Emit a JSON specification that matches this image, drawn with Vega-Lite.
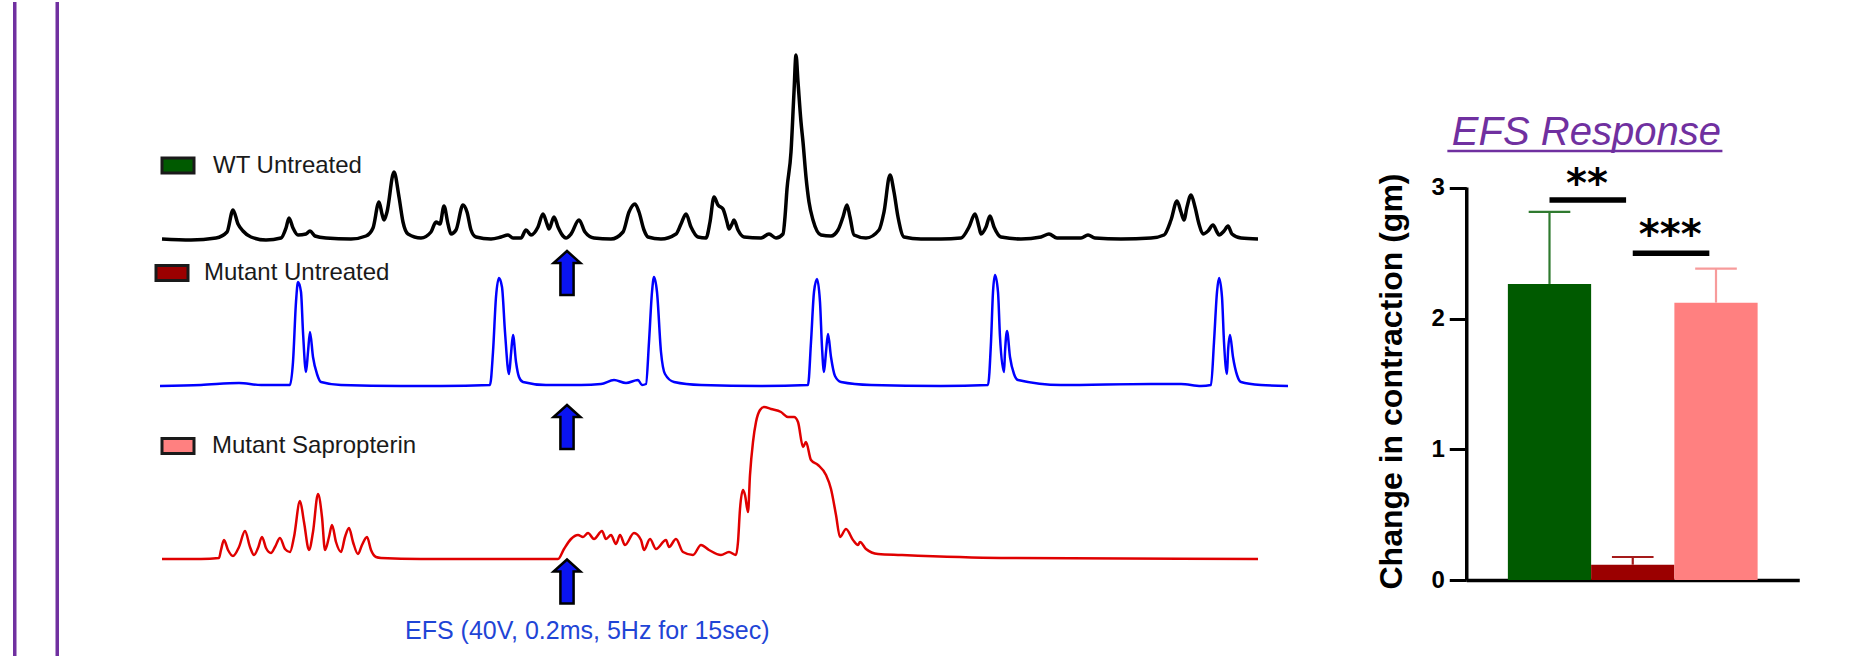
{
"$schema": "https://vega.github.io/schema/vega-lite/v6.json",
"padding": {"left": 12.75, "top": 0, "right": 0, "bottom": 0},
"background": "white",
"config": {"view": {"stroke": null}, "font": "Liberation Sans"},
"datasets": {
"frame": [{"edge": 0}, {"edge": 1}],
"wt": [
{"t":0,"v":0},{"t":7.25,"v":-0.01},{"t":13.5,"v":0.01},{"t":16.25,"v":0.07},{"t":17.75,"v":0.29},{"t":19,"v":0.15},{"t":20.25,"v":0.08},{"t":22.25,"v":0.02},{"t":26,"v":-0.01},{"t":29.75,"v":0.01},{"t":31,"v":0.11},{"t":31.75,"v":0.21},{"t":32.75,"v":0.11},{"t":34,"v":0.04},{"t":36,"v":0.05},{"t":37,"v":0.08},{"t":38.25,"v":0.03},{"t":41,"v":0.01},{"t":47.25,"v":0},{"t":51,"v":0.03},{"t":52.75,"v":0.11},{"t":54.25,"v":0.37},{"t":55,"v":0.25},{"t":55.5,"v":0.19},{"t":56.25,"v":0.27},{"t":58,"v":0.67},{"t":59.25,"v":0.42},{"t":60.25,"v":0.17},{"t":61.5,"v":0.05},{"t":64.75,"v":0.01},{"t":67.25,"v":0.07},{"t":68.5,"v":0.17},{"t":69.5,"v":0.15},{"t":70.5,"v":0.33},{"t":71.5,"v":0.15},{"t":72.25,"v":0.05},{"t":73.5,"v":0.09},{"t":75.25,"v":0.34},{"t":76.25,"v":0.27},{"t":77.25,"v":0.09},{"t":78.5,"v":0.02},{"t":82.25,"v":0},{"t":84.75,"v":0.02},{"t":86.5,"v":0.04},{"t":87.75,"v":0.01},{"t":89.75,"v":0.01},{"t":91,"v":0.09},{"t":92.25,"v":0.04},{"t":94,"v":0.12},{"t":95.25,"v":0.25},{"t":96.25,"v":0.15},{"t":96.75,"v":0.1},{"t":98,"v":0.22},{"t":99,"v":0.12},{"t":100.25,"v":0.03},{"t":101,"v":0.01},{"t":102.25,"v":0.05},{"t":104.25,"v":0.19},{"t":105.75,"v":0.07},{"t":108,"v":0.01},{"t":112.25,"v":0},{"t":115.25,"v":0.07},{"t":116.75,"v":0.27},{"t":118.25,"v":0.35},{"t":119.25,"v":0.27},{"t":120.5,"v":0.09},{"t":121.5,"v":0.02},{"t":124.75,"v":0},{"t":128.5,"v":0.05},{"t":129.75,"v":0.15},{"t":131,"v":0.25},{"t":132.25,"v":0.12},{"t":134,"v":0.02},{"t":136,"v":0.01},{"t":137,"v":0.17},{"t":138,"v":0.42},{"t":139,"v":0.34},{"t":140.25,"v":0.3},{"t":141.25,"v":0.17},{"t":141.75,"v":0.1},{"t":142.5,"v":0.15},{"t":143,"v":0.19},{"t":144,"v":0.09},{"t":145.5,"v":0.02},{"t":149.75,"v":0.01},{"t":151.75,"v":0.05},{"t":153.5,"v":0.01},{"t":155.25,"v":0.05},{"t":155.75,"v":0.22},{"t":156.25,"v":0.5},{"t":157.25,"v":0.87},{"t":158,"v":1.47},{"t":158.5,"v":1.84},{"t":159,"v":1.57},{"t":159.75,"v":1.17},{"t":160.25,"v":0.97},{"t":161,"v":0.62},{"t":161.75,"v":0.37},{"t":162.75,"v":0.19},{"t":164.75,"v":0.04},{"t":167.25,"v":0.03},{"t":169,"v":0.09},{"t":170.25,"v":0.22},{"t":171.25,"v":0.34},{"t":172,"v":0.22},{"t":173,"v":0.04},{"t":176,"v":0.01},{"t":179.25,"v":0.09},{"t":180.5,"v":0.27},{"t":182,"v":0.64},{"t":183,"v":0.47},{"t":184,"v":0.22},{"t":185.5,"v":0.02},{"t":189.75,"v":0},{"t":194.75,"v":0},{"t":199.75,"v":0.01},{"t":201.75,"v":0.12},{"t":203.25,"v":0.25},{"t":204.25,"v":0.12},{"t":204.75,"v":0.05},{"t":206,"v":0.12},{"t":207,"v":0.23},{"t":208,"v":0.12},{"t":209.75,"v":0.02},{"t":214.75,"v":0},{"t":219.75,"v":0.02},{"t":221.75,"v":0.05},{"t":223.75,"v":0.01},{"t":229.75,"v":0.01},{"t":231.5,"v":0.04},{"t":233.25,"v":0.01},{"t":239.75,"v":0},{"t":247.25,"v":0.01},{"t":250.5,"v":0.04},{"t":252.25,"v":0.19},{"t":253.75,"v":0.38},{"t":254.75,"v":0.27},{"t":255.5,"v":0.19},{"t":256.25,"v":0.32},{"t":257.25,"v":0.44},{"t":258.25,"v":0.32},{"t":259.25,"v":0.15},{"t":260.25,"v":0.05},{"t":261.5,"v":0.08},{"t":262.75,"v":0.14},{"t":263.75,"v":0.07},{"t":264.25,"v":0.04},{"t":265.5,"v":0.08},{"t":266.5,"v":0.13},{"t":267.5,"v":0.05},{"t":269.75,"v":0.01},{"t":274,"v":0}
],
"mut": [
{"t":-0.5,"v":0},{"t":9.75,"v":0.01},{"t":19.25,"v":0.03},{"t":24.75,"v":0.01},{"t":32,"v":0.01},{"t":32.75,"v":0.24},{"t":33.5,"v":0.84},{"t":34,"v":1.04},{"t":34.75,"v":0.94},{"t":35.25,"v":0.54},{"t":36,"v":0.14},{"t":36.5,"v":0.34},{"t":37,"v":0.54},{"t":37.75,"v":0.29},{"t":38.75,"v":0.12},{"t":39.75,"v":0.04},{"t":44.75,"v":0.01},{"t":59.75,"v":0},{"t":69.75,"v":0},{"t":82,"v":0.01},{"t":82.75,"v":0.34},{"t":83.5,"v":0.89},{"t":84.25,"v":1.08},{"t":85,"v":0.99},{"t":85.75,"v":0.54},{"t":86.75,"v":0.12},{"t":87.25,"v":0.32},{"t":87.75,"v":0.51},{"t":88.5,"v":0.24},{"t":89.25,"v":0.09},{"t":90.25,"v":0.04},{"t":96,"v":0.01},{"t":104.75,"v":0.01},{"t":109.75,"v":0.02},{"t":113,"v":0.06},{"t":116,"v":0.03},{"t":119,"v":0.06},{"t":120,"v":0.01},{"t":121,"v":0.02},{"t":121.75,"v":0.44},{"t":122.5,"v":0.94},{"t":123,"v":1.09},{"t":123.75,"v":0.94},{"t":124.75,"v":0.34},{"t":125.75,"v":0.12},{"t":128,"v":0.04},{"t":134.75,"v":0.01},{"t":149.75,"v":0},{"t":161.5,"v":0.01},{"t":162.25,"v":0.44},{"t":163,"v":0.94},{"t":163.75,"v":1.07},{"t":164.5,"v":0.84},{"t":165,"v":0.39},{"t":165.5,"v":0.14},{"t":166,"v":0.34},{"t":166.5,"v":0.52},{"t":167.25,"v":0.29},{"t":168.25,"v":0.1},{"t":169.75,"v":0.04},{"t":177.25,"v":0.01},{"t":194.75,"v":0},{"t":206.5,"v":0.01},{"t":207.25,"v":0.44},{"t":207.75,"v":0.94},{"t":208.25,"v":1.11},{"t":209,"v":0.94},{"t":209.5,"v":0.49},{"t":210.5,"v":0.14},{"t":210.75,"v":0.34},{"t":211.25,"v":0.55},{"t":212,"v":0.29},{"t":213,"v":0.12},{"t":214,"v":0.06},{"t":224.75,"v":0.01},{"t":247.25,"v":0.02},{"t":254.75,"v":0.02},{"t":259.75,"v":0},{"t":262.25,"v":0.01},{"t":263,"v":0.44},{"t":263.75,"v":0.94},{"t":264.25,"v":1.08},{"t":265,"v":0.89},{"t":265.5,"v":0.44},{"t":266.25,"v":0.12},{"t":266.5,"v":0.34},{"t":267,"v":0.51},{"t":267.75,"v":0.29},{"t":268.75,"v":0.11},{"t":269.75,"v":0.04},{"t":274.75,"v":0.01},{"t":281.5,"v":0}
],
"sap": [
{"t":0,"v":0},{"t":9.75,"v":0},{"t":14.25,"v":0.01},{"t":14.75,"v":0.09},{"t":15.5,"v":0.19},{"t":16.5,"v":0.09},{"t":17.75,"v":0.03},{"t":19.25,"v":0.12},{"t":20.75,"v":0.28},{"t":22,"v":0.12},{"t":23,"v":0.04},{"t":24,"v":0.11},{"t":25,"v":0.22},{"t":26,"v":0.11},{"t":27.25,"v":0.06},{"t":28.25,"v":0.12},{"t":29.5,"v":0.21},{"t":30.75,"v":0.1},{"t":32,"v":0.07},{"t":33,"v":0.22},{"t":34.5,"v":0.58},{"t":35.5,"v":0.37},{"t":36.75,"v":0.09},{"t":37.75,"v":0.27},{"t":39,"v":0.65},{"t":40,"v":0.42},{"t":40.75,"v":0.09},{"t":41.75,"v":0.22},{"t":42.5,"v":0.34},{"t":43.5,"v":0.17},{"t":44.75,"v":0.07},{"t":45.75,"v":0.22},{"t":46.75,"v":0.31},{"t":47.75,"v":0.17},{"t":49,"v":0.05},{"t":50,"v":0.14},{"t":51.25,"v":0.22},{"t":52.25,"v":0.09},{"t":53.5,"v":0.02},{"t":54.75,"v":0.01},{"t":64.75,"v":0},{"t":84.75,"v":0},{"t":99,"v":0},{"t":100.5,"v":0.1},{"t":102.25,"v":0.2},{"t":104,"v":0.24},{"t":105.25,"v":0.22},{"t":106.5,"v":0.26},{"t":108,"v":0.2},{"t":110,"v":0.28},{"t":111,"v":0.2},{"t":112.25,"v":0.24},{"t":113.5,"v":0.15},{"t":114.5,"v":0.24},{"t":115.75,"v":0.14},{"t":118,"v":0.26},{"t":119.75,"v":0.19},{"t":120.5,"v":0.09},{"t":122,"v":0.2},{"t":123.5,"v":0.1},{"t":126,"v":0.19},{"t":126.75,"v":0.12},{"t":128.5,"v":0.2},{"t":130.25,"v":0.07},{"t":132.75,"v":0.04},{"t":134.75,"v":0.14},{"t":136.75,"v":0.09},{"t":139.75,"v":0.04},{"t":141.75,"v":0.07},{"t":143.5,"v":0.04},{"t":144,"v":0.17},{"t":144.5,"v":0.5},{"t":145.25,"v":0.69},{"t":145.75,"v":0.64},{"t":146.5,"v":0.47},{"t":147,"v":0.84},{"t":147.75,"v":1.17},{"t":148.5,"v":1.37},{"t":149.5,"v":1.49},{"t":150.5,"v":1.52},{"t":152.25,"v":1.5},{"t":154.75,"v":1.47},{"t":156.5,"v":1.42},{"t":158,"v":1.42},{"t":159,"v":1.37},{"t":160.25,"v":1.12},{"t":161,"v":1.17},{"t":162.25,"v":0.99},{"t":164,"v":0.94},{"t":166,"v":0.84},{"t":167.25,"v":0.7},{"t":168.5,"v":0.44},{"t":169.5,"v":0.22},{"t":171,"v":0.3},{"t":172.75,"v":0.19},{"t":174,"v":0.14},{"t":174.5,"v":0.17},{"t":176,"v":0.1},{"t":179,"v":0.05},{"t":184.75,"v":0.04},{"t":209.75,"v":0.01},{"t":274,"v":0}
],
"labels": [
{"series":"WT Untreated","tb":4,"tt":12.75,"v":0.735},
{"series":"Mutant Untreated","tb":2.5,"tt":10.5,"v":1.13},
{"series":"Mutant Sapropterin","tb":4,"tt":12.5,"v":1.13}
],
"arrows": [
{"series":"WT Untreated","t":101.25,"v":-0.34},
{"series":"Mutant Untreated","t":101.25,"v":-0.41},
{"series":"Mutant Sapropterin","t":101.25,"v":-0.225}
],
"note": [{"text":"EFS (40V, 0.2ms, 5Hz for 15sec)","t":60.75,"v":-0.8}],
"bars": [
{"group":"WT Untreated","mean":2.265,"upper":2.816},
{"group":"Mutant Untreated","mean":0.117,"upper":0.176},
{"group":"Mutant Sapropterin","mean":2.122,"upper":2.382}
],
"sig": [
{"label":"**","from":"WT Untreated","to":"Mutant Untreated","y":2.907,"ytext":2.93},
{"label":"***","from":"Mutant Untreated","to":"Mutant Sapropterin","y":2.5,"ytext":2.54}
],
"title": [{"text":"EFS Response","anchor":"WT Untreated","end":"Mutant Sapropterin","v":3.328,"vline":3.282}]
},
"spacing": 85.25,
"hconcat": [
{
"width": 42.5, "height": 656,
"data": {"name": "frame"},
"mark": {"type": "rule", "color": "#7030a0", "strokeWidth": 3.5},
"encoding": {"x": {"field": "edge", "type": "quantitative", "scale": {"domain": [0, 1], "nice": false, "zero": false}, "axis": null}}
},
{
"width": 1145, "height": 656,
"resolve": {"scale": {"y": "independent"}},
"layer": [
{
"layer": [
{"data": {"name": "wt"}, "mark": {"type": "line", "color": "#000000", "strokeWidth": 3.5, "strokeJoin": "round", "interpolate": "monotone"},
 "encoding": {"x": {"field": "t", "type": "quantitative", "scale": {"domain": [-4.25, 282], "nice": false, "zero": false}, "axis": null},
  "y": {"field": "v", "type": "quantitative", "scale": {"domain": [-4.19, 2.37], "nice": false, "zero": false}, "axis": null}}},
{"data": {"name": "labels"}, "transform": [{"filter": "datum.series === 'WT Untreated'"}],
 "mark": {"type": "point", "shape": "M-1,-0.47L1,-0.47L1,0.47L-1,0.47Z", "size": 1024, "filled": true, "opacity": 1, "stroke": "#1a1a1a", "strokeWidth": 3},
 "encoding": {"x": {"field": "tb", "type": "quantitative", "scale": {"domain": [-4.25, 282], "nice": false, "zero": false}, "axis": null},
  "y": {"field": "v", "type": "quantitative", "scale": {"domain": [-4.19, 2.37], "nice": false, "zero": false}, "axis": null},
  "fill": {"field": "series", "type": "nominal", "scale": {"domain": ["WT Untreated", "Mutant Untreated", "Mutant Sapropterin"], "range": ["#005a00", "#9b0000", "#ff8080"]}, "legend": null}}},
{"data": {"name": "labels"}, "transform": [{"filter": "datum.series === 'WT Untreated'"}],
 "mark": {"type": "text", "fontSize": 24, "align": "left", "baseline": "middle", "color": "#1a1a1a", "font": "Liberation Sans"},
 "encoding": {"x": {"field": "tt", "type": "quantitative", "scale": {"domain": [-4.25, 282], "nice": false, "zero": false}, "axis": null},
  "y": {"field": "v", "type": "quantitative", "scale": {"domain": [-4.19, 2.37], "nice": false, "zero": false}, "axis": null},
  "text": {"field": "series"}}},
{"data": {"name": "arrows"}, "transform": [{"filter": "datum.series === 'WT Untreated'"}],
 "mark": {"type": "point", "shape": "M0,-1L0.61,-0.45L0.3,-0.45L0.3,1L-0.3,1L-0.3,-0.45L-0.61,-0.45Z", "size": 1936, "filled": true, "fill": "#0a14f0", "stroke": "#000000", "strokeWidth": 2.5, "opacity": 1},
 "encoding": {"x": {"field": "t", "type": "quantitative", "scale": {"domain": [-4.25, 282], "nice": false, "zero": false}, "axis": null},
  "y": {"field": "v", "type": "quantitative", "scale": {"domain": [-4.19, 2.37], "nice": false, "zero": false}, "axis": null}}}
]
},
{
"layer": [
{"data": {"name": "mut"}, "mark": {"type": "line", "color": "#0000ff", "strokeWidth": 2.5, "strokeJoin": "round", "interpolate": "monotone"},
 "encoding": {"x": {"field": "t", "type": "quantitative", "scale": {"domain": [-4.25, 282], "nice": false, "zero": false}, "axis": null},
  "y": {"field": "v", "type": "quantitative", "scale": {"domain": [-2.72, 3.84], "nice": false, "zero": false}, "axis": null}}},
{"data": {"name": "labels"}, "transform": [{"filter": "datum.series === 'Mutant Untreated'"}],
 "mark": {"type": "point", "shape": "M-1,-0.47L1,-0.47L1,0.47L-1,0.47Z", "size": 1024, "filled": true, "opacity": 1, "stroke": "#1a1a1a", "strokeWidth": 3},
 "encoding": {"x": {"field": "tb", "type": "quantitative", "scale": {"domain": [-4.25, 282], "nice": false, "zero": false}, "axis": null},
  "y": {"field": "v", "type": "quantitative", "scale": {"domain": [-2.72, 3.84], "nice": false, "zero": false}, "axis": null},
  "fill": {"field": "series", "type": "nominal", "scale": {"domain": ["WT Untreated", "Mutant Untreated", "Mutant Sapropterin"], "range": ["#005a00", "#9b0000", "#ff8080"]}, "legend": null}}},
{"data": {"name": "labels"}, "transform": [{"filter": "datum.series === 'Mutant Untreated'"}],
 "mark": {"type": "text", "fontSize": 24, "align": "left", "baseline": "middle", "color": "#1a1a1a", "font": "Liberation Sans"},
 "encoding": {"x": {"field": "tt", "type": "quantitative", "scale": {"domain": [-4.25, 282], "nice": false, "zero": false}, "axis": null},
  "y": {"field": "v", "type": "quantitative", "scale": {"domain": [-2.72, 3.84], "nice": false, "zero": false}, "axis": null},
  "text": {"field": "series"}}},
{"data": {"name": "arrows"}, "transform": [{"filter": "datum.series === 'Mutant Untreated'"}],
 "mark": {"type": "point", "shape": "M0,-1L0.61,-0.45L0.3,-0.45L0.3,1L-0.3,1L-0.3,-0.45L-0.61,-0.45Z", "size": 1936, "filled": true, "fill": "#0a14f0", "stroke": "#000000", "strokeWidth": 2.5, "opacity": 1},
 "encoding": {"x": {"field": "t", "type": "quantitative", "scale": {"domain": [-4.25, 282], "nice": false, "zero": false}, "axis": null},
  "y": {"field": "v", "type": "quantitative", "scale": {"domain": [-2.72, 3.84], "nice": false, "zero": false}, "axis": null}}}
]
},
{
"layer": [
{"data": {"name": "sap"}, "mark": {"type": "line", "color": "#e00000", "strokeWidth": 2.5, "strokeJoin": "round", "interpolate": "monotone"},
 "encoding": {"x": {"field": "t", "type": "quantitative", "scale": {"domain": [-4.25, 282], "nice": false, "zero": false}, "axis": null},
  "y": {"field": "v", "type": "quantitative", "scale": {"domain": [-0.99, 5.57], "nice": false, "zero": false}, "axis": null}}},
{"data": {"name": "labels"}, "transform": [{"filter": "datum.series === 'Mutant Sapropterin'"}],
 "mark": {"type": "point", "shape": "M-1,-0.47L1,-0.47L1,0.47L-1,0.47Z", "size": 1024, "filled": true, "opacity": 1, "stroke": "#1a1a1a", "strokeWidth": 3},
 "encoding": {"x": {"field": "tb", "type": "quantitative", "scale": {"domain": [-4.25, 282], "nice": false, "zero": false}, "axis": null},
  "y": {"field": "v", "type": "quantitative", "scale": {"domain": [-0.99, 5.57], "nice": false, "zero": false}, "axis": null},
  "fill": {"field": "series", "type": "nominal", "scale": {"domain": ["WT Untreated", "Mutant Untreated", "Mutant Sapropterin"], "range": ["#005a00", "#9b0000", "#ff8080"]}, "legend": null}}},
{"data": {"name": "labels"}, "transform": [{"filter": "datum.series === 'Mutant Sapropterin'"}],
 "mark": {"type": "text", "fontSize": 24, "align": "left", "baseline": "middle", "color": "#1a1a1a", "font": "Liberation Sans"},
 "encoding": {"x": {"field": "tt", "type": "quantitative", "scale": {"domain": [-4.25, 282], "nice": false, "zero": false}, "axis": null},
  "y": {"field": "v", "type": "quantitative", "scale": {"domain": [-0.99, 5.57], "nice": false, "zero": false}, "axis": null},
  "text": {"field": "series"}}},
{"data": {"name": "arrows"}, "transform": [{"filter": "datum.series === 'Mutant Sapropterin'"}],
 "mark": {"type": "point", "shape": "M0,-1L0.61,-0.45L0.3,-0.45L0.3,1L-0.3,1L-0.3,-0.45L-0.61,-0.45Z", "size": 1936, "filled": true, "fill": "#0a14f0", "stroke": "#000000", "strokeWidth": 2.5, "opacity": 1},
 "encoding": {"x": {"field": "t", "type": "quantitative", "scale": {"domain": [-4.25, 282], "nice": false, "zero": false}, "axis": null},
  "y": {"field": "v", "type": "quantitative", "scale": {"domain": [-0.99, 5.57], "nice": false, "zero": false}, "axis": null}}},
{"data": {"name": "note"},
 "mark": {"type": "text", "fontSize": 25, "align": "left", "baseline": "alphabetic", "color": "#1f45d6", "font": "Liberation Sans"},
 "encoding": {"x": {"field": "t", "type": "quantitative", "scale": {"domain": [-4.25, 282], "nice": false, "zero": false}, "axis": null},
  "y": {"field": "v", "type": "quantitative", "scale": {"domain": [-0.99, 5.57], "nice": false, "zero": false}, "axis": null},
  "text": {"field": "text"}}}
]
}
]
},
{
"width": 333, "height": 578,
"layer": [
{"data": {"name": "bars"}, "mark": {"type": "bar"},
 "encoding": {
  "x": {"field": "group", "type": "nominal", "scale": {"domain": ["WT Untreated", "Mutant Untreated", "Mutant Sapropterin"], "paddingInner": 0, "paddingOuter": 0.5},
   "axis": {"labels": false, "ticks": false, "title": null, "domainColor": "#000000", "domainWidth": 3.5}},
  "y": {"field": "mean", "type": "quantitative", "scale": {"domain": [0, 4.4222], "nice": false, "zero": true},
   "axis": {"values": [0, 1, 2, 3], "format": "d", "grid": false, "domainColor": "#000000", "domainWidth": 3.5, "domainDash": [393, 2000],
    "tickColor": "#000000", "tickWidth": 3, "tickSize": 17, "labelFont": "Liberation Sans", "labelFontWeight": "bold", "labelFontSize": 24, "labelColor": "#000000", "labelPadding": 5,
    "title": "Change in contraction (gm)", "titleFont": "Liberation Sans", "titleFontSize": 32, "titleFontWeight": "bold", "titleColor": "#000000", "titlePadding": 22, "titleY": 379}},
  "fill": {"field": "group", "type": "nominal", "scale": {"domain": ["WT Untreated", "Mutant Untreated", "Mutant Sapropterin"], "range": ["#005a00", "#9b0000", "#ff8080"]}, "legend": null}}},
{"data": {"name": "bars"}, "mark": {"type": "rule", "strokeWidth": 2.2},
 "encoding": {
  "x": {"field": "group", "type": "nominal", "scale": {"domain": ["WT Untreated", "Mutant Untreated", "Mutant Sapropterin"], "paddingInner": 0, "paddingOuter": 0.5}, "axis": {"title": null}},
  "y": {"field": "mean", "type": "quantitative", "scale": {"domain": [0, 4.4222], "nice": false, "zero": true}, "axis": {"title": "Change in contraction (gm)"}},
  "y2": {"field": "upper"},
  "stroke": {"field": "group", "type": "nominal", "scale": {"domain": ["WT Untreated", "Mutant Untreated", "Mutant Sapropterin"], "range": ["#2f7a2f", "#a51a1a", "#f79b9b"]}, "legend": null}}},
{"data": {"name": "bars"}, "mark": {"type": "rule", "strokeWidth": 2.2},
 "encoding": {
  "x": {"field": "group", "type": "nominal", "bandPosition": 0.25, "scale": {"domain": ["WT Untreated", "Mutant Untreated", "Mutant Sapropterin"], "paddingInner": 0, "paddingOuter": 0.5}, "axis": {"title": null}},
  "x2": {"field": "group", "bandPosition": 0.75},
  "y": {"field": "upper", "type": "quantitative", "scale": {"domain": [0, 4.4222], "nice": false, "zero": true}, "axis": {"title": "Change in contraction (gm)"}},
  "stroke": {"field": "group", "type": "nominal", "scale": {"domain": ["WT Untreated", "Mutant Untreated", "Mutant Sapropterin"], "range": ["#2f7a2f", "#a51a1a", "#f79b9b"]}, "legend": null}}},
{"data": {"name": "sig"}, "mark": {"type": "rule", "strokeWidth": 5.5, "color": "#000000"},
 "encoding": {
  "x": {"field": "from", "type": "nominal", "bandPosition": 0.5, "scale": {"domain": ["WT Untreated", "Mutant Untreated", "Mutant Sapropterin"], "paddingInner": 0, "paddingOuter": 0.5}, "axis": {"title": null}},
  "x2": {"field": "to", "bandPosition": 0.42},
  "y": {"field": "y", "type": "quantitative", "scale": {"domain": [0, 4.4222], "nice": false, "zero": true}, "axis": {"title": "Change in contraction (gm)"}}}},
{"data": {"name": "sig"}, "mark": {"type": "text", "font": "DejaVu Sans", "fontWeight": "bold", "fontSize": 40, "align": "center", "baseline": "alphabetic", "color": "#000000"},
 "encoding": {
  "x": {"field": "from", "type": "nominal", "bandPosition": 0.95, "scale": {"domain": ["WT Untreated", "Mutant Untreated", "Mutant Sapropterin"], "paddingInner": 0, "paddingOuter": 0.5}, "axis": {"title": null}},
  "y": {"field": "ytext", "type": "quantitative", "scale": {"domain": [0, 4.4222], "nice": false, "zero": true}, "axis": {"title": "Change in contraction (gm)"}},
  "text": {"field": "label"}}},
{"data": {"name": "title"}, "mark": {"type": "text", "font": "Liberation Sans", "fontStyle": "italic", "fontSize": 40, "align": "center", "baseline": "alphabetic", "color": "#7030a0"},
 "encoding": {
  "x": {"field": "anchor", "type": "nominal", "bandPosition": 0.943, "scale": {"domain": ["WT Untreated", "Mutant Untreated", "Mutant Sapropterin"], "paddingInner": 0, "paddingOuter": 0.5}, "axis": {"title": null}},
  "y": {"field": "v", "type": "quantitative", "scale": {"domain": [0, 4.4222], "nice": false, "zero": true}, "axis": {"title": "Change in contraction (gm)"}},
  "text": {"field": "text"}}},
{"data": {"name": "title"}, "mark": {"type": "rule", "color": "#7030a0", "strokeWidth": 2.5},
 "encoding": {
  "x": {"field": "anchor", "type": "nominal", "bandPosition": -0.727, "scale": {"domain": ["WT Untreated", "Mutant Untreated", "Mutant Sapropterin"], "paddingInner": 0, "paddingOuter": 0.5}, "axis": {"title": null}},
  "x2": {"field": "end", "bandPosition": 0.577},
  "y": {"field": "vline", "type": "quantitative", "scale": {"domain": [0, 4.4222], "nice": false, "zero": true}, "axis": {"title": "Change in contraction (gm)"}}}}
]
}
]
}
